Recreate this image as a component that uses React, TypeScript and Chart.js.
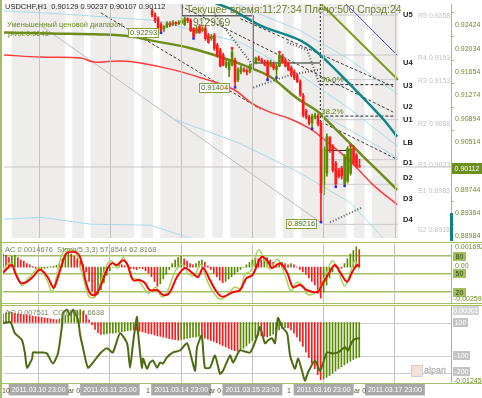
import React, { useEffect, useRef } from "react";
import { Chart, registerables } from "chart.js";

Chart.register(...registerables);

// ---------------- data ----------------
const X_MAX = 150.9;
const dayTicks = [12, 36, 60, 84, 108, 132];
const dayLabels = ["2011.03.10 23:00", "2011.03.11 23:00", "2011.03.14 23:00", "2011.03.15 23:00", "2011.03.16 23:00", "2011.03.17 23:00"];
const priceTicks = [0.92424, 0.92034, 0.91654, 0.91274, 0.90894, 0.90514, 0.89744, 0.89364, 0.88984];

const shadedRanges = [
  [2.7, 20.5], [23.2, 26.9], [29.3, 43.8], [46.5, 50.2], [52.9, 67.7], [70.4, 73.8],
  [76.5, 91.6], [94.3, 97.7], [100.4, 115.5], [118.2, 121.6], [124.3, 133],
];

const candleStart = 50;
const opens = [
  0.92647, 0.92583, 0.9252, 0.92424, 0.9236, 0.92392, 0.9244, 0.92424, 0.92456, 0.9244,
  0.92456, 0.92424, 0.9252, 0.92488, 0.9236, 0.92296, 0.92392, 0.92328, 0.9236, 0.92248,
  0.922, 0.92248, 0.92088, 0.92009, 0.91929, 0.91753, 0.91689, 0.91769, 0.91849, 0.91529,
  0.91657, 0.91689, 0.91673, 0.91657, 0.91721, 0.91801, 0.91881, 0.91849, 0.91817, 0.91817,
  0.91753, 0.91785, 0.91689, 0.91753, 0.91913, 0.91849, 0.91785, 0.91721, 0.91657, 0.91593,
  0.91497, 0.91274, 0.91018, 0.90922, 0.90827, 0.90906, 0.90938, 0.90827, 0.89821, 0.90012,
  0.90571, 0.90443, 0.90172, 0.9006, 0.90092, 0.89837, 0.89885, 0.90012, 0.90412, 0.903,
  0.90129,
];
const highs = [
  0.92679, 0.92615, 0.92551, 0.92456, 0.92408, 0.92472, 0.92472, 0.92488, 0.92472, 0.92488,
  0.9252, 0.92551, 0.92536, 0.9252, 0.92376, 0.92392, 0.92424, 0.92392, 0.92408, 0.9228,
  0.92264, 0.9228, 0.9212, 0.92041, 0.91961, 0.91849, 0.91849, 0.92041, 0.91881, 0.91721,
  0.91753, 0.91721, 0.91705, 0.91785, 0.91817, 0.91897, 0.91913, 0.91881, 0.91849, 0.91849,
  0.91849, 0.91817, 0.91785, 0.91977, 0.91945, 0.91881, 0.91817, 0.91753, 0.91689, 0.91625,
  0.91529, 0.91306, 0.9105, 0.90954, 0.9097, 0.90986, 0.9097, 0.90859, 0.90443, 0.90651,
  0.90587, 0.90475, 0.90204, 0.90092, 0.90124, 0.90316, 0.90443, 0.90459, 0.90459, 0.90332,
  0.90237,
];
const lows = [
  0.92551, 0.92456, 0.9236, 0.92293, 0.92312, 0.92376, 0.92392, 0.92408, 0.92408, 0.92424,
  0.9244, 0.92408, 0.92456, 0.92312, 0.922, 0.9228, 0.9228, 0.92312, 0.92168, 0.9212,
  0.92168, 0.92009, 0.91897, 0.91737, 0.91753, 0.91721, 0.91577, 0.91753, 0.91404, 0.91497,
  0.91625, 0.91657, 0.91609, 0.91641, 0.91705, 0.91785, 0.91833, 0.91801, 0.91753, 0.91529,
  0.91737, 0.91689, 0.91561, 0.91737, 0.91801, 0.91737, 0.91673, 0.91577, 0.91529, 0.91481,
  0.91258, 0.90922, 0.90891, 0.90795, 0.90731, 0.90891, 0.90779, 0.89216, 0.89661, 0.89964,
  0.90348, 0.90028, 0.89789, 0.89932, 0.89916, 0.89805, 0.89853, 0.8998, 0.9014, 0.90092,
  0.90107,
];
const closes = [
  0.92583, 0.92488, 0.92376, 0.92328, 0.92392, 0.9244, 0.92424, 0.92456, 0.9244, 0.92456,
  0.92488, 0.9252, 0.92488, 0.92328, 0.92232, 0.9236, 0.92296, 0.9236, 0.922, 0.92136,
  0.92232, 0.92041, 0.91929, 0.91753, 0.91769, 0.91817, 0.91817, 0.91977, 0.91497, 0.91689,
  0.91721, 0.91673, 0.91657, 0.91753, 0.91785, 0.91881, 0.91849, 0.91817, 0.91769, 0.91609,
  0.91817, 0.91721, 0.91753, 0.91929, 0.91817, 0.91753, 0.91689, 0.91609, 0.91561, 0.91497,
  0.9129, 0.90954, 0.90922, 0.90827, 0.90938, 0.90954, 0.90811, 0.89693, 0.90412, 0.90603,
  0.9038, 0.9006, 0.89837, 0.89964, 0.89964, 0.90284, 0.90412, 0.90412, 0.90172, 0.90124,
  0.90112,
];
const fractalLowIdx = [53, 64, 78, 89, 92, 104, 107, 112, 115];
const fractalHighIdx = [77, 93, 110, 117];

// moving averages / drawn lines : [barIndex, price]
const olivePath = [[0, 0.92296], [15.8, 0.9228], [32.7, 0.92264], [42.8, 0.92232], [49.5, 0.92168], [63, 0.92041], [74.1, 0.91881], [83.2, 0.91721], [89.9, 0.91577], [99, 0.91226], [105.8, 0.91018], [108.5, 0.90891], [115.9, 0.90539], [120.2, 0.90332], [126, 0.9006], [132.7, 0.89741]];
const redPath = [[0, 0.91929], [12.5, 0.91897], [25.9, 0.91881], [30.3, 0.91817], [39.4, 0.91833], [46.1, 0.91801], [57.3, 0.91689], [66.4, 0.91561], [77.5, 0.9137], [83.2, 0.91162], [88.9, 0.91018], [96.7, 0.90891], [103.4, 0.90731], [107.8, 0.90571], [116.9, 0.90204], [124.6, 0.89821], [132.7, 0.89501]];
const tealPath = [[71.4, 0.92775], [76.5, 0.92679], [86.6, 0.92408], [100, 0.92168], [106.8, 0.91929], [116.9, 0.91449], [128, 0.90891], [132.7, 0.90603]];
const blue1 = [[0, 0.92647], [19.2, 0.92599], [51.9, 0.92488], [66.4, 0.92296], [79.8, 0.92136], [100, 0.91609], [116.9, 0.9105], [133, 0.90444]];
const blue2 = [[78.1, 0.92759], [100, 0.92328], [116.9, 0.91849], [133, 0.9129]];
const blue3 = [[0, 0.89262], [12.5, 0.89294], [29.3, 0.89182], [49.5, 0.89166], [59.6, 0.89006], [63, 0.88958]];
const blue4 = [[57.3, 0.90891], [79.8, 0.90491], [100, 0.90012], [116.9, 0.89533], [128, 0.88958]];
const blue5 = [[96.7, 0.9129], [110.1, 0.90891], [129.3, 0.90364], [133, 0.90252]];
const grayDiag = [[12.5, 0.92408], [106.8, 0.89214]];
const dashA = [[32.7, 0.92615], [86.6, 0.9105]];
const dashB = [[59.6, 0.92727], [131.4, 0.91002]];
const dashC = [[79.8, 0.9252], [131.4, 0.91418]];
const dashE = [[108.5, 0.90811], [132, 0.90252]];
const plus1 = [[71.4, 0.92567], [83.9, 0.91769]];
const plus2 = [[84.2, 0.91402], [96.7, 0.91609], [106.1, 0.91689]];
const plus3 = [[95.7, 0.92136], [102.4, 0.92009], [106.8, 0.91418]];
const plus4 = [[110.1, 0.89214], [120.9, 0.89454]];
const blackLines = [
  [[60, 0.92567], [84.2, 0.92567]],
  [[84.2, 0.91801], [106.8, 0.91801]],
  [[108.5, 0.9038], [117.5, 0.9038]],
  [[60, 0.92759], [60, 0.92567]],
  [[84.2, 0.92567], [84.2, 0.91801]],
];
const fiboDashed = [[[106.8, 0.91449], [132, 0.91449]], [[106.8, 0.90938], [132, 0.90938]]];
const vDotted = [[106.8, 0.92759], [106.8, 0.90811]];
const pivotLevels = [0.9258, 0.9193, 0.9153, 0.9088, 0.9023, 0.8983, 0.8918];
const pivotSpan = [107.8, 133];
const oliveRight = [[106.1, 0.92807], [133, 0.91529]];
const blueRight = [[114.5, 0.92807], [132.7, 0.91929]];
const currentPrice = 0.90112;

// oscillators (bar index 0..120)
const acValues = [
  0.0011, 0.001, 0.0008, 0.0009, 0.001, 0.0008, 0.0006, 0.0005, 0.0003, 0.0002,
  0.00005, -0.0001, -0.0002, -0.00015, -0.0001, -0.00005, 0.00003, 0.00008, 0.00015, 0.0003,
  0.0007, 0.0011, 0.0012, 0.0011, 0.0009, 0.0007, 0.0005, 0.0002, -0.0004, -0.0012,
  -0.002, -0.0025, -0.0023, -0.0019, -0.0013, -0.0007, -0.0003, 0, 0.0002, 0.0003,
  0.0002, 0.0001, 0, -0.0001, -0.00015, -0.0002, -0.0001, -0.00015, -0.0003, -0.0005,
  -0.0008, -0.0012, -0.0016, -0.0014, -0.001, -0.0006, -0.0002, 0.0003, 0.0006, 0.0008,
  0.0009, 0.0007, 0.0005, 0.0003, 0.0002, 0.0003, 0.0005, 0.0006, 0.0004, 0.0001,
  -0.0002, -0.0005, -0.0008, -0.0011, -0.0013, -0.0012, -0.001, -0.0008, -0.0006, -0.0004,
  -0.0002, 0, 0.0002, 0.0004, 0.0006, 0.0008, 0.0007, 0.0006, 0.0007, 0.0008,
  0.0006, 0.0004, 0.0002, 0.0003, 0.0004, 0.0003, 0.0002, 0.0003, 0.0002, 0,
  -0.0002, -0.0004, -0.0006, -0.0009, -0.0012, -0.0015, -0.0022, -0.0026, -0.0021, -0.0015,
  -0.0009, -0.0004, 0.0001, 0, -0.0001, 0.0003, 0.0007, 0.0011, 0.0014, 0.0017,
  0.0014676,
];
const stochSignal = [[0, 52], [3, 65], [4, 53], [6, 35], [8, 37], [10, 45], [12.5, 57], [15, 45], [17, 27], [18, 37], [20, 68], [21.5, 85], [25, 85], [26.6, 68], [27.6, 43], [29.3, 18], [31, 15], [32.7, 28], [35, 57], [36.7, 68], [38.4, 65], [40.4, 73], [42, 65], [43.8, 40], [46, 40], [47.8, 35], [49.5, 23], [52, 23], [54, 15], [56, 18], [58.6, 45], [61.3, 60], [63.7, 52], [65.7, 45], [67.4, 60], [69.7, 40], [72, 20], [74, 12], [77.5, 20], [79.8, 23], [82, 43], [84, 48], [87, 78], [89, 73], [90.6, 60], [93.3, 68], [95.7, 52], [97.7, 28], [100, 32], [102.4, 23], [105.8, 20], [107.8, 35], [110, 53], [111.8, 65], [113.5, 53], [115.9, 37], [117.5, 52], [119.2, 65], [120, 62.8]];
const stochMain = [[0, 55], [2, 68], [3.5, 62], [5, 45], [6.5, 30], [8, 40], [10, 50], [12, 60], [13.5, 52], [15, 38], [16.5, 20], [18, 45], [19.5, 78], [21, 92], [23, 90], [24.5, 88], [26, 62], [27.5, 35], [29, 12], [31, 12], [33, 38], [35, 65], [36.5, 72], [38.5, 60], [40.5, 78], [42, 62], [43.5, 42], [45, 42], [47, 30], [49, 18], [51.5, 28], [53.5, 12], [55.5, 22], [58, 55], [60.5, 66], [62.5, 50], [64.5, 48], [66.5, 66], [68.5, 42], [71, 18], [73.5, 8], [76, 18], [78, 28], [80, 26], [81.5, 50], [83.5, 55], [86, 90], [88, 75], [90, 58], [92.5, 75], [95, 48], [97, 22], [99, 36], [101, 30], [102.5, 16], [105, 18], [107, 30], [109, 52], [111, 72], [113, 55], [115, 30], [117, 52], [118.5, 72], [120, 57.9]];
const aoValues = [
  0.0019, 0.0021, 0.0023, 0.0022, 0.002, 0.0019, 0.0018, 0.0017, 0.0016, 0.0015,
  0.0014, 0.0013, 0.0012, 0.0011, 0.001, 0.0009, 0.0008, 0.0007, 0.0006, 0.0008,
  0.0011, 0.0015, 0.0019, 0.0022, 0.0025, 0.0027, 0.0028, 0.0024, 0.0016, 0.0006,
  -0.0005, -0.0015, -0.0022, -0.0026, -0.0025, -0.0024, -0.0023, -0.0023, -0.0022, -0.0021,
  -0.002, -0.0019, -0.0018, -0.0017, -0.0016, -0.0017, -0.0019, -0.002, -0.0022, -0.0024,
  -0.0025, -0.0027, -0.0029, -0.003, -0.0032, -0.0033, -0.0035, -0.0036, -0.0037, -0.0038,
  -0.0037, -0.0036, -0.0034, -0.0033, -0.0032, -0.0031, -0.003, -0.0032, -0.0034, -0.0036,
  -0.0039, -0.0041, -0.0044, -0.0047, -0.005, -0.0053, -0.0056, -0.0059, -0.0061, -0.0062,
  -0.006, -0.0056, -0.0051, -0.0045, -0.0039, -0.0033, -0.0028, -0.0029, -0.003, -0.0031,
  -0.0029, -0.0025, -0.002, -0.0016, -0.0013, -0.0011, -0.0012, -0.0016, -0.0023, -0.0031,
  -0.0041, -0.0052, -0.0064, -0.0076, -0.0088, -0.01, -0.0113, -0.0124, -0.0122, -0.0119,
  -0.0115, -0.011, -0.0105, -0.01, -0.0096, -0.0092, -0.0088, -0.0084, -0.008, -0.0077,
  -0.007511,
];
const cciPath = [[0, 100], [2.4, 106], [3, 88], [4, 39], [6.4, -3], [7.4, -82], [8.1, -167], [9.8, -112], [10.1, -76], [11.5, -76], [13.5, -76], [14.8, -82], [16.8, -142], [18.5, -82], [19.9, 88], [20.2, 160], [21.6, 179], [22.6, 148], [23.6, 179], [25.3, 118], [25.9, 39], [26.9, -45], [28.6, -167], [30.3, -136], [32.7, -82], [35, -51], [37, -76], [39.4, 39], [41.8, -21], [42.8, -167], [43.8, -21], [45.1, 136], [45.5, 39], [46.8, -167], [47.2, -112], [48.5, -173], [49.5, -136], [50.5, -124], [51.9, -167], [52.9, -136], [53.9, -142], [55.2, -106], [57.3, -76], [59.6, -64], [62, -21], [63.7, -124], [64.7, -185], [65.3, -51], [66.4, 9], [67, 27], [68, -167], [69.7, -167], [71.4, -94], [73.1, -203], [74.1, -185], [76.5, -94], [77.5, -136], [79.8, -64], [83.2, -76], [85.5, 15], [86.6, 76], [88.2, -21], [89.3, -3], [90.6, 9], [91.6, -21], [92.6, 130], [94, 76], [95.7, 39], [96.7, -94], [98.3, -173], [99.4, -112], [100.7, -185], [101.7, -245], [102.7, -197], [105.1, -124], [106.8, -185], [109.1, -76], [111.1, -82], [112.8, -76], [115.2, -45], [116.2, -64], [117.9, -3], [119.6, 9], [120.2, 4.7]];

// ---------------- colours ----------------
const BORDER = "#a3bf68";
const OLIVE_TXT = "#6b8e23";
const UP = "#5a8a00";
const DOWN = "#ff1a1a";

const pts = (arr: number[][]) => arr.map(([x, y]) => ({ x, y }));
const line = (data: number[][], color: string, width: number, extra: any = {}) => ({
  type: "line",
  data: pts(data),
  borderColor: color,
  borderWidth: width,
  pointRadius: 0,
  fill: false,
  tension: 0,
  order: 40,
  ...extra,
});

const noPad = (s: any) => {
  s.paddingTop = 0; s.paddingBottom = 0; s.paddingLeft = 0; s.paddingRight = 0;
};

const xScale = (labels: boolean, z = 0) => ({
  type: "linear",
  min: 0,
  max: X_MAX,
  offset: false,
  grid: { color: "#c2c2c2", lineWidth: 1, drawTicks: false, offset: false, z },
  border: { display: false },
  ticks: labels
    ? {
        autoSkip: false, maxRotation: 0, padding: 3, color: "#ffffff",
        font: { size: 7 },
        showLabelBackdrop: true, backdropColor: "#a9a9a9",
        backdropPadding: { top: 2, bottom: 1, left: 3, right: 3 },
        callback: (v: any) => dayLabels[dayTicks.indexOf(Number(v))] ?? "",
      }
    : { display: false },
  afterBuildTicks: (s: any) => { s.ticks = dayTicks.map((v) => ({ value: v })); },
  afterFit: (s: any) => { s.height = labels ? 15 : 0; noPad(s); },
});

const baseOptions = (padTop: number, padBottom: number, scales: any) => ({
  responsive: false,
  animation: false,
  events: [],
  layout: { padding: { left: 3, right: 0, top: padTop, bottom: padBottom } },
  plugins: { legend: { display: false }, tooltip: { enabled: false } },
  scales,
});

export default function App() {
  const c1 = useRef<HTMLCanvasElement>(null);
  const c2 = useRef<HTMLCanvasElement>(null);
  const c3 = useRef<HTMLCanvasElement>(null);

  useEffect(() => {
    Chart.defaults.font.family = "'Liberation Sans', Arial, sans-serif";
    const charts: Chart[] = [];

    // ---------- main price panel ----------
    const candleColors = opens.map((o, k) => (closes[k] >= o ? UP : DOWN));
    const mainDatasets: any[] = [
      {
        type: "bar", indexAxis: "y", grouped: false, order: 100,
        data: shadedRanges.map(([s, e]) => ({ x: [s, e], y: 0.9086 })),
        backgroundColor: "#efecec", barThickness: 240, borderWidth: 0,
      },
      ...pivotLevels.map((p) => line([[pivotSpan[0], p], [pivotSpan[1], p]], "#c9c9c9", 1, { order: 80 })),
      line([[0, currentPrice], [X_MAX, currentPrice]], "#c4c4c4", 1, { order: 80 }),
      line(blue1, "#a9dbe8", 1, { order: 70 }),
      line(blue2, "#a9dbe8", 1, { order: 70 }),
      line(blue3, "#a9dbe8", 1, { order: 70 }),
      line(blue4, "#a9dbe8", 1, { order: 70 }),
      line(blue5, "#a9dbe8", 1, { order: 70 }),
      line(grayDiag, "#bdbdbd", 1, { order: 70 }),
      line(dashA, "#3a3a3a", 1, { borderDash: [3, 2] }),
      line(dashB, "#3a3a3a", 1, { borderDash: [3, 2] }),
      line(dashC, "#3a3a3a", 1, { borderDash: [3, 2] }),
      line(dashE, "#3a3a3a", 1, { borderDash: [3, 2] }),
      line(plus1, "#555555", 2, { borderDash: [1, 2] }),
      line(plus2, "#555555", 2, { borderDash: [1, 2] }),
      line(plus3, "#555555", 2, { borderDash: [1, 2] }),
      line(plus4, "#555555", 2, { borderDash: [1, 2] }),
      ...blackLines.map((l, k) => line(l, k === 4 ? "#777777" : "#222222", 1)),
      ...fiboDashed.map((l) => line(l, "#222222", 1, { borderDash: [3, 2] })),
      line(vDotted, "#222222", 1, { borderDash: [2, 2] }),
      line(oliveRight, "#7e9c1c", 2, { order: 35 }),
      line(blueRight, "#4b4bff", 1, { order: 35 }),
      line(redPath, "#ff3b3b", 1.5, { tension: 0.4, order: 30 }),
      line(olivePath, "#6f8c1a", 2.5, { tension: 0.4, order: 30 }),
      line(tealPath, "#0f8585", 2.5, { tension: 0.3, order: 30 }),
      {
        type: "bar", grouped: false, order: 12, barThickness: 1,
        data: opens.map((_, k) => ({ x: candleStart + k, y: [lows[k], highs[k]] })),
        backgroundColor: candleColors,
      },
      {
        type: "bar", grouped: false, order: 11, barThickness: 2, minBarLength: 1,
        data: opens.map((o, k) => ({ x: candleStart + k, y: [o, closes[k]] })),
        backgroundColor: candleColors,
      },
      {
        type: "line", showLine: false, order: 5,
        data: fractalLowIdx.map((i) => ({ x: i, y: lows[i - candleStart] })),
        pointStyle: "rect", pointRadius: 1.8, backgroundColor: "#2b2bff", borderWidth: 0,
      },
      {
        type: "line", showLine: false, order: 5,
        data: fractalHighIdx.map((i) => ({ x: i, y: highs[i - candleStart] })),
        pointStyle: "rect", pointRadius: 1.8, backgroundColor: "#ff2020", borderWidth: 0,
      },
    ];
    charts.push(
      new Chart(c1.current!, {
        type: "line",
        data: { datasets: mainDatasets },
        options: baseOptions(3, 1, {
          x: xScale(false, 1),
          y: {
            type: "linear", position: "right", min: 0.88958, max: 0.92759, offset: false, beginAtZero: false,
            grid: { drawOnChartArea: false, drawTicks: true, tickLength: 3, color: BORDER },
            border: { display: true, color: BORDER, width: 1 },
            ticks: { font: { size: 7 }, color: OLIVE_TXT, padding: 1, callback: (v: any) => Number(v).toFixed(5) },
            afterBuildTicks: (s: any) => { s.ticks = priceTicks.map((v) => ({ value: v })); },
            afterFit: (s: any) => { s.width = 31; noPad(s); },
          },
        }) as any,
      } as any)
    );

    // ---------- AC + Stochastic ----------
    const acColors = acValues.map((v, i) => (i === 0 || v >= acValues[i - 1] ? UP : DOWN));
    charts.push(
      new Chart(c2.current!, {
        type: "line",
        data: {
          datasets: [
            {
              type: "bar", grouped: false, order: 20, barThickness: 1, yAxisID: "yac",
              data: acValues.map((v, i) => ({ x: i, y: v })), backgroundColor: acColors,
            },
            line(stochMain, "#a8d25a", 1.5, { tension: 0.35, order: 6 }),
            line(stochSignal, "#ff0000", 2, { tension: 0.35, order: 5 }),
          ],
        },
        options: baseOptions(1, 0, {
          x: xScale(false),
          y: {
            type: "linear", position: "right", min: 0, max: 100, offset: false, beginAtZero: false,
            grid: { color: BORDER, lineWidth: 1.5, drawTicks: false },
            border: { display: true, color: BORDER, width: 1 },
            ticks: { display: false },
            afterBuildTicks: (s: any) => { s.ticks = [20, 50, 80].map((v) => ({ value: v })); },
            afterFit: (s: any) => { s.width = 31; noPad(s); },
          },
          yac: { type: "linear", display: false, min: -0.003094, max: 0.001944, beginAtZero: false, offset: false },
        }) as any,
      } as any)
    );

    // ---------- AO + CCI ----------
    const aoColors = aoValues.map((v, i) => (i === 0 || v >= aoValues[i - 1] ? UP : DOWN));
    charts.push(
      new Chart(c3.current!, {
        type: "line",
        data: {
          datasets: [
            {
              type: "bar", grouped: false, order: 20, barThickness: 1, yAxisID: "yao",
              data: aoValues.map((v, i) => ({ x: i, y: v })), backgroundColor: aoColors,
            },
            line(cciPath, "#4d6b10", 2, { tension: 0.2, order: 5 }),
          ],
        },
        options: baseOptions(1, 0, {
          x: xScale(true),
          y: {
            type: "linear", position: "right", min: -258.2, max: 207.5, offset: false, beginAtZero: false,
            grid: { color: "#cdcdcd", lineWidth: 1, drawTicks: false },
            border: { display: true, color: BORDER, width: 1 },
            ticks: { display: false },
            afterBuildTicks: (s: any) => { s.ticks = [100, -100, -200].map((v) => ({ value: v })); },
            afterFit: (s: any) => { s.width = 31; noPad(s); },
          },
          yao: { type: "linear", display: false, min: -0.0131, max: 0.00379, beginAtZero: false, offset: false },
        }) as any,
      } as any)
    );

    return () => charts.forEach((c) => c.destroy());
  }, []);

  const font = "'Liberation Sans', Arial, sans-serif";
  const T = (p: { x: number; y: number; s?: number; c?: string; b?: boolean; children: any }) => (
    <div style={{ position: "absolute", left: p.x, top: p.y, fontSize: p.s ?? 7.5, color: p.c ?? "#333", fontWeight: p.b ? "bold" : "normal", lineHeight: 1, whiteSpace: "pre" }}>{p.children}</div>
  );
  const Boxed = (p: { x: number; y: number; children: any }) => (
    <div style={{ position: "absolute", left: p.x, top: p.y, border: "1px solid #87a23c", background: "#fff", color: "#4f6b12", fontSize: 7.5, lineHeight: "8px", padding: "0 1px" }}>{p.children}</div>
  );
  const Tag = (p: { x: number; y: number; w: number; bg: string; c: string; children: any }) => (
    <div style={{ position: "absolute", left: p.x, top: p.y, width: p.w, height: 9, background: p.bg, color: p.c, fontSize: 7, lineHeight: "9px", textAlign: "center" }}>{p.children}</div>
  );
  const HLine = (p: { y: number }) => (
    <div style={{ position: "absolute", left: 0, top: p.y, width: 482, height: 1, background: BORDER }} />
  );

  return (
    <div style={{ position: "fixed", left: 0, top: 0, width: 482, height: 398, background: "#fff", overflow: "hidden", fontFamily: font }}>
      <canvas ref={c1} width={482} height={242} style={{ position: "absolute", left: 0, top: 0, width: 482, height: 242 }} />
      <canvas ref={c2} width={482} height={61} style={{ position: "absolute", left: 0, top: 243, width: 482, height: 61 }} />
      <canvas ref={c3} width={482} height={94} style={{ position: "absolute", left: 0, top: 304, width: 482, height: 94 }} />

      {/* borders */}
      <div style={{ position: "absolute", left: 0, top: 0, width: 2, height: 398, background: BORDER }} />
      <HLine y={242} />
      <HLine y={303} />
      <HLine y={305} />
      <HLine y={383} />

      {/* main panel texts */}
      <T x={5} y={3} s={7.5} c="#2d2d2d">{"USDCHF,H1  0.90129 0.90237 0.90107 0.90112"}</T>
      <T x={7} y={21} s={7.5} c={OLIVE_TXT}>Уменьшенный ценовой диапазон</T>
      <T x={8} y={30} s={7.5} c={OLIVE_TXT}>pivot:0.9041</T>
      <T x={186} y={5} s={10.3} c="#6d7f2c">Текущее время:11:27:34 Плечо:500 Спрэд:24</T>
      <T x={193} y={18} s={10.3} c="#6d7f2c">9129.69</T>
      <Boxed x={128} y={28}>0.92293</Boxed>
      <Boxed x={199} y={83}>0.91404</Boxed>
      <Boxed x={286} y={219}>0.89216</Boxed>
      <T x={321} y={76} s={8} c="#5d7d1a">50.0%</T>
      <T x={321} y={108} s={8} c="#5d7d1a">38.2%</T>

      <T x={403} y={11} b c="#222">U5</T>
      <T x={403} y={59} b c="#222">U4</T>
      <T x={403} y={82} b c="#222">U3</T>
      <T x={403} y={103} b c="#222">U2</T>
      <T x={403} y={116} b c="#222">U1</T>
      <T x={403} y={139} b c="#222">LB</T>
      <T x={403} y={159} b c="#222">D1</T>
      <T x={403} y={174} b c="#222">D2</T>
      <T x={403} y={195} b c="#222">D3</T>
      <T x={403} y={216} b c="#222">D4</T>
      <T x={418} y={12} s={7} c="#c3c3c3">R5 0.9258</T>
      <T x={418} y={54} s={7} c="#c3c3c3">R4 0.9193</T>
      <T x={418} y={77} s={7} c="#c3c3c3">R3 0.9153</T>
      <T x={418} y={120} s={7} c="#c3c3c3">R2 0.9088</T>
      <T x={418} y={161} s={7} c="#c3c3c3">R1 0.9023</T>
      <T x={418} y={187} s={7} c="#c3c3c3">S1 0.8983</T>
      <T x={418} y={226} s={7} c="#c3c3c3">S2 0.8918</T>
      <div style={{ position: "absolute", left: 452, top: 163, width: 30, height: 11, background: "#6d8f21", color: "#fff", fontSize: 7, lineHeight: "11px", textAlign: "center" }}>0.90112</div>
      <div style={{ position: "absolute", left: 450, top: 213, width: 3, height: 28, background: "#0f7f7f" }} />

      {/* AC / Stoch panel */}
      <T x={5} y={246} s={7.5} c="#76875a">{"AC 0.0014676  Stoch(5,3,3) 57.8544 62.8168"}</T>
      <T x={455} y={243} s={7} c={OLIVE_TXT}>0.001692</T>
      <Tag x={453} y={252} w={13} bg="#9fbe5c" c="#2f4010">80</Tag>
      <T x={455} y={262} s={7} c={OLIVE_TXT}>0.00</T>
      <Tag x={453} y={269} w={13} bg="#9fbe5c" c="#2f4010">50</Tag>
      <Tag x={453} y={288} w={13} bg="#9fbe5c" c="#2f4010">20</Tag>
      <T x={454} y={295} s={7} c={OLIVE_TXT}>-0.00259</T>

      {/* AO / CCI panel */}
      <T x={5} y={309} s={7.5} c="#76875a">{"AO 0.007511  CCI(14) 4.6638"}</T>
      <Tag x={453} y={306} w={26} bg="#d4d4d4" c="#ffffff">0.00301</Tag>
      <Tag x={453} y={318} w={15} bg="#c4c4c4" c="#ffffff">100</Tag>
      <Tag x={453} y={351} w={17} bg="#c4c4c4" c="#ffffff">-100</Tag>
      <Tag x={453} y={367} w={17} bg="#c4c4c4" c="#ffffff">-200</Tag>
      <T x={454} y={377} s={7} c={OLIVE_TXT}>-0.01245</T>
      <div style={{ position: "absolute", left: 411, top: 365, width: 10, height: 10, border: "1px solid #d0d0d0", background: "#f4e0d8" }} />
      <T x={424} y={366} s={9} c="#9a9a9a">alpari</T>

      {/* partially hidden axis labels */}
      <T x={2} y={387} s={7} c="#4d5d2d">10</T>
      <T x={68} y={387} s={7} c="#4d5d2d">ar 0</T>
      <T x={146} y={387} s={7} c="#4d5d2d">1</T>
      <T x={209} y={387} s={7} c="#4d5d2d">ar 0</T>
      <T x={287} y={387} s={7} c="#4d5d2d">1</T>
      <T x={354} y={387} s={7} c="#4d5d2d">ar 0</T>
    </div>
  );
}
